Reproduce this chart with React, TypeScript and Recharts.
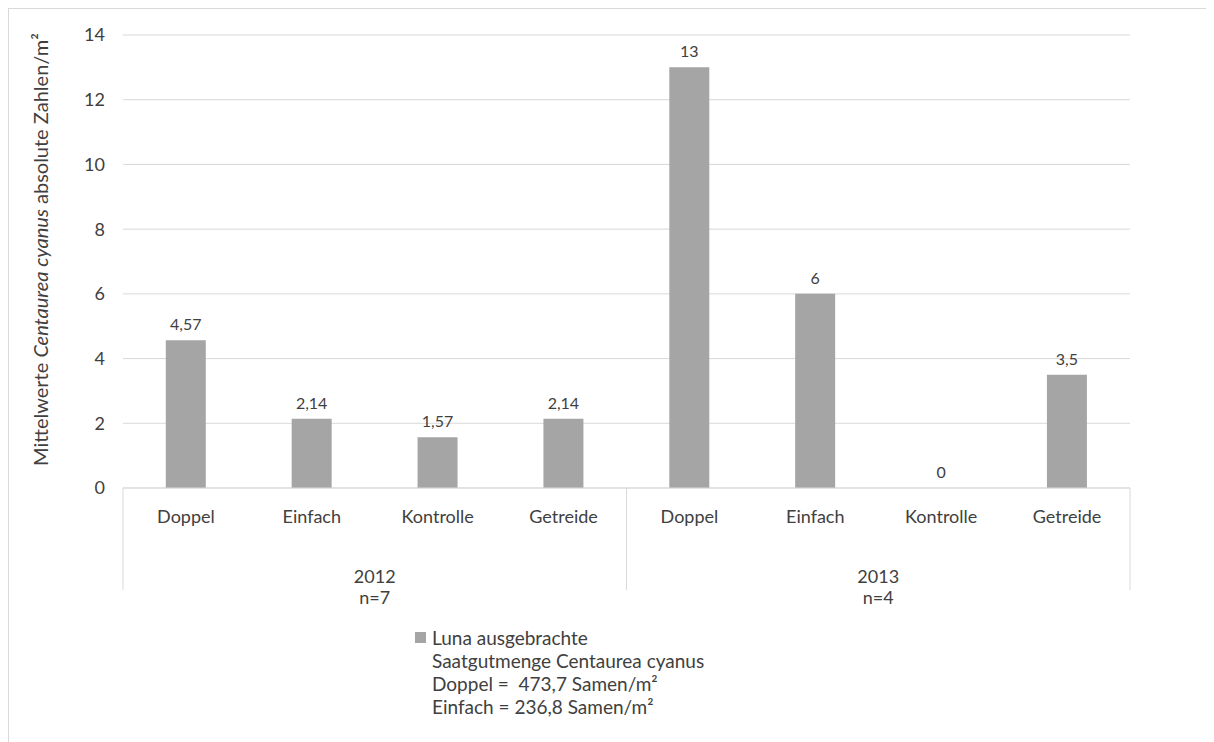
import { Bar, BarChart, CartesianGrid, LabelList, XAxis, YAxis } from "recharts";

// Eight treatments, two years of four each.
const categories = ["Doppel", "Einfach", "Kontrolle", "Getreide", "Doppel", "Einfach", "Kontrolle", "Getreide"];
const groupYears = ["2012", "2013"];
const groupSizes = ["n=7", "n=4"];
const values = [4.57, 2.14, 1.57, 2.14, 13, 6, 0, 3.5];
const yTicks = [0, 2, 4, 6, 8, 10, 12, 14];
const legendLines = [
  "Luna ausgebrachte",
  "Saatgutmenge Centaurea cyanus",
  "Doppel =  473,7 Samen/m²",
  "Einfach = 236,8 Samen/m²",
];

const data = categories.map((c, i) => ({ idx: i, name: c, value: values[i] }));

const W = 1204;
const H = 740;
const MARGIN = { top: 26, right: 83, bottom: 0, left: 0 };
const Y_AXIS_W = 114;
const X_AXIS_H = H - MARGIN.top - 453;
const PLOT_W = W - MARGIN.left - MARGIN.right - Y_AXIS_W;

const FONT = "Lato, 'Open Sans', sans-serif";
const TEXT = "#404040";
const GRID = "#d9d9d9";
const BAR = "#a5a5a5";

function CategoryTick(props: any) {
  const { x, y, payload } = props;
  const i = Number(payload.value);
  const band = PLOT_W / categories.length;
  const perGroup = categories.length / groupYears.length;
  const g = Math.floor(i / perGroup);
  const left = x - band / 2;
  return (
    <g fontFamily={FONT} fontSize={18} fill={TEXT}>
      <text x={x} y={y + 35} textAnchor="middle">
        {categories[i]}
      </text>
      {i % perGroup === 0 && (
        <>
          <line x1={left} x2={left} y1={y} y2={y + 102} stroke={GRID} />
          <text x={left + (band * perGroup) / 2} y={y + 95} textAnchor="middle">
            {groupYears[g]}
          </text>
          <text x={left + (band * perGroup) / 2} y={y + 116} textAnchor="middle">
            {groupSizes[g]}
          </text>
        </>
      )}
      {i === categories.length - 1 && (
        <line x1={x + band / 2} x2={x + band / 2} y1={y} y2={y + 102} stroke={GRID} />
      )}
    </g>
  );
}

function ValueLabel(props: any) {
  const { x, y, width, value } = props;
  return (
    <text
      x={Number(x) + Number(width) / 2}
      y={Number(y) - 10}
      textAnchor="middle"
      fontFamily={FONT}
      fontSize={16}
      fill={TEXT}
    >
      {String(value).replace(".", ",")}
    </text>
  );
}

function YLabel(props: any) {
  const vb = props.viewBox;
  const cx = vb.x + 31;
  const cy = vb.y + vb.height / 2 - 12;
  return (
    <text
      x={cx}
      y={cy}
      transform={`rotate(-90 ${cx} ${cy})`}
      textAnchor="middle"
      dominantBaseline="central"
      fontFamily={FONT}
      fontSize={20}
      fill={TEXT}
    >
      Mittelwerte <tspan fontStyle="italic">Centaurea cyanus</tspan> absolute Zahlen/m²
    </text>
  );
}

export default function App() {
  return (
    <div
      style={{
        position: "relative",
        width: W,
        height: H,
        border: `1px solid ${GRID}`,
        background: "#fff",
        fontFamily: FONT,
      }}
    >
      <BarChart width={W} height={H} data={data} margin={MARGIN} barCategoryGap="34%">
        <CartesianGrid vertical={false} stroke={GRID} />
        <XAxis
          dataKey="idx"
          height={X_AXIS_H}
          interval={0}
          tickLine={false}
          tickSize={0}
          tickMargin={0}
          axisLine={{ stroke: GRID }}
          tick={<CategoryTick />}
        />
        <YAxis
          width={Y_AXIS_W}
          domain={[0, 14]}
          ticks={yTicks}
          axisLine={false}
          tickLine={false}
          tickSize={0}
          tickMargin={18}
          tick={{ fill: TEXT, fontSize: 18, fontFamily: FONT }}
          label={<YLabel />}
        />
        {/* tiny min size keeps the zero bar in the label list */}
        <Bar dataKey="value" fill={BAR} minPointSize={0.01} isAnimationActive={false}>
          <LabelList dataKey="value" content={<ValueLabel />} />
        </Bar>
      </BarChart>
      <div
        style={{
          position: "absolute",
          left: 406,
          top: 617,
          fontSize: 19,
          lineHeight: "23px",
          color: TEXT,
          whiteSpace: "pre",
        }}
      >
        {legendLines.map((t, i) => (
          <div key={i} style={{ display: "flex", alignItems: "center" }}>
            <span
              style={{
                display: "inline-block",
                width: 11,
                height: 11,
                marginRight: 6,
                background: i === 0 ? BAR : "transparent",
              }}
            />
            {t}
          </div>
        ))}
      </div>
    </div>
  );
}
